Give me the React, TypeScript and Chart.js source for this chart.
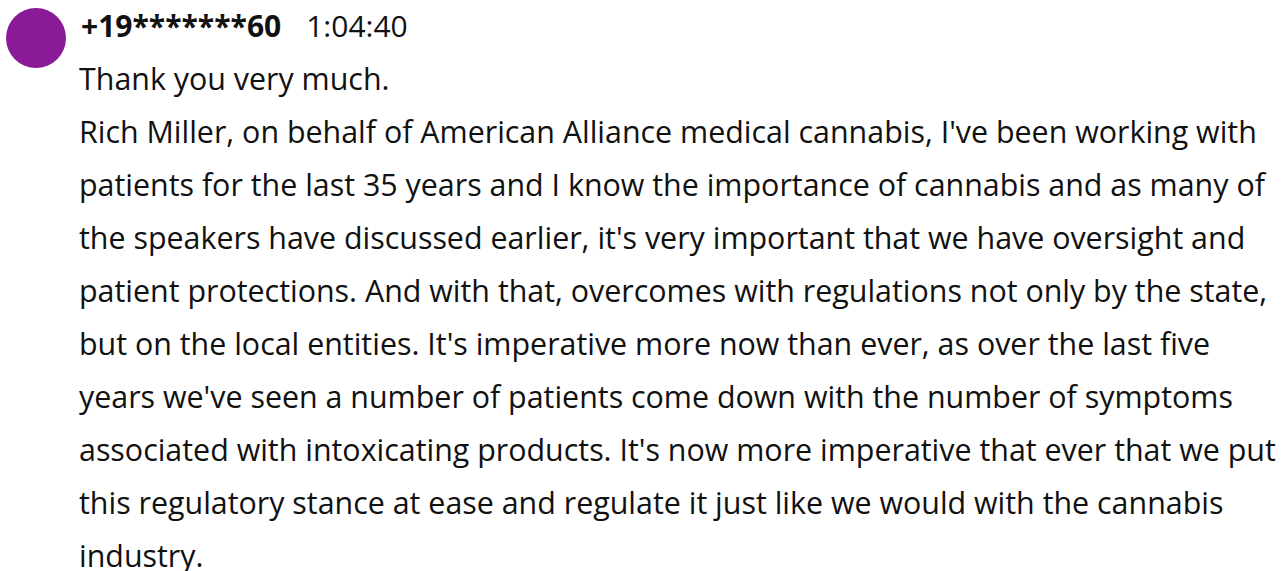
import React, { useEffect, useRef } from "react";
import { Chart, registerables } from "chart.js";

Chart.register(...registerables);

const senderName = "+19*******60";
const timestamp = "1:04:40";
const firstLine = "Thank you very much.";
const bodyLines = [
  "Rich Miller, on behalf of American Alliance medical cannabis, I've been working with",
  "patients for the last 35 years and I know the importance of cannabis and as many of",
  "the speakers have discussed earlier, it's very important that we have oversight and",
  "patient protections. And with that, overcomes with regulations not only by the state,",
  "but on the local entities. It's imperative more now than ever, as over the last five",
  "years we've seen a number of patients come down with the number of symptoms",
  "associated with intoxicating products. It's now more imperative that ever that we put",
  "this regulatory stance at ease and regulate it just like we would with the cannabis",
  "industry.",
];
const avatarLabels = ["avatar"];
const avatarValues = [1];
const avatarColors = ["#8b1a96"];

const FONT = "'Open Sans', 'Noto Sans', sans-serif";
const LINE_H = 53;

export default function App() {
  const canvasRef = useRef<HTMLCanvasElement | null>(null);

  useEffect(() => {
    document.body.style.margin = "0";
    const c = canvasRef.current;
    if (!c) return;
    const chart = new Chart(c, {
      type: "pie",
      data: {
        labels: avatarLabels,
        datasets: [
          {
            data: avatarValues,
            backgroundColor: avatarColors,
            borderWidth: 0,
          },
        ],
      },
      options: {
        animation: false,
        responsive: false,
        maintainAspectRatio: false,
        layout: { padding: 0 },
        plugins: {
          legend: { display: false },
          tooltip: { enabled: false },
          title: { display: false },
        },
        events: [],
      },
    });
    return () => chart.destroy();
  }, []);

  const textStyle: React.CSSProperties = {
    position: "absolute",
    left: 79,
    whiteSpace: "pre",
    fontFamily: FONT,
    fontSize: 30.4,
    lineHeight: LINE_H + "px",
    color: "#111",
  };

  return (
    <div
      style={{
        position: "fixed",
        left: 0,
        top: 0,
        width: 1282,
        height: 571,
        background: "#fff",
        overflow: "hidden",
      }}
    >
      <canvas
        ref={canvasRef}
        width={60}
        height={60}
        style={{ position: "absolute", left: 6, top: 8, width: 60, height: 60 }}
      />
      <div style={{ ...textStyle, left: 81, top: -1, fontSize: 30 }}>
        <span style={{ fontWeight: 700 }}>{senderName}</span>
        <span style={{ marginLeft: 25 }}>{timestamp}</span>
      </div>
      <div style={{ ...textStyle, top: 52 }}>{firstLine}</div>
      {bodyLines.map((line, i) => (
        <div key={i} style={{ ...textStyle, top: 105 + i * LINE_H }}>
          {line}
        </div>
      ))}
    </div>
  );
}
